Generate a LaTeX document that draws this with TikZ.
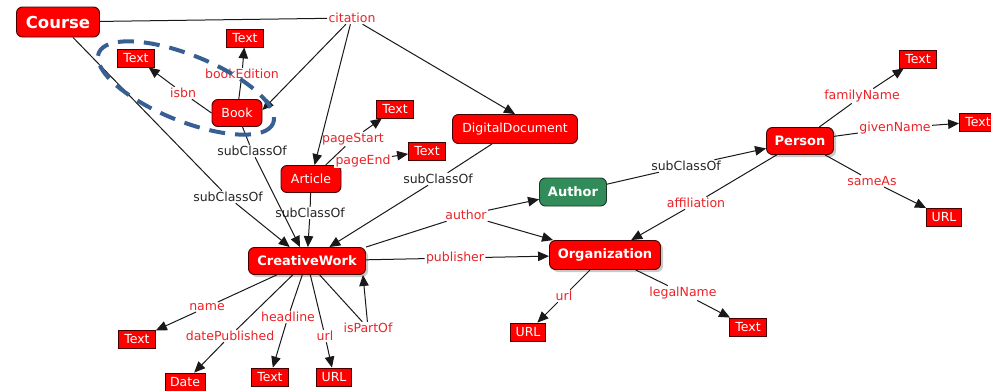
\documentclass[tikz,border=0pt]{standalone}
\usepackage{fontspec}
\setmainfont{DejaVu Sans}
\usetikzlibrary{arrows.meta,shadows}
\definecolor{nodered}{RGB}{255,0,0}
\definecolor{edgered}{RGB}{235,35,40}
\definecolor{authgreen}{RGB}{50,140,90}
\definecolor{ellblue}{RGB}{55,95,145}
\definecolor{edgecol}{RGB}{25,25,25}
\definecolor{bordercol}{RGB}{70,0,0}
\begin{document}
\begin{tikzpicture}[x=1pt,y=-1pt,
  cls/.style={draw=bordercol, line width=0.9pt, fill=nodered, rounded corners=6pt, text=white, font=\fontsize{12.5}{14}\selectfont, inner sep=2pt, minimum height=27pt},
  boldcls/.style={cls, font=\fontsize{13}{15}\selectfont\bfseries},
  shad/.style={drop shadow={shadow xshift=2.5pt, shadow yshift=-2.5pt, fill=black!35, opacity=0.6}},
  lit/.style={draw=bordercol, line width=0.8pt, fill=nodered, text=white, font=\fontsize{12.5}{14}\selectfont, inner sep=1pt, minimum height=18pt, minimum width=37pt},
  lab/.style={fill=white, text=edgered, font=\fontsize{12.5}{14}\selectfont, inner sep=1.2pt},
  blab/.style={lab, text=black!85},
  link/.style={draw=edgecol, line width=1pt},
  arr/.style={link, -{Triangle[length=11pt,width=9.5pt]}},
]
\useasboundingbox (0,0) rectangle (991,391);
\fill[white] (0,0) rectangle (991,391);

% concept nodes
\node[boldcls, font=\fontsize{16.5}{18}\selectfont\bfseries, minimum width=83pt, minimum height=30pt] (course) at (58,22) {Course};
\node[lit] (t1) at (136,58) {Text};
\node[lit] (t2) at (245,38) {Text};
\node[cls, minimum width=50pt] (book) at (237,113) {Book};
\node[cls, minimum width=60pt] (article) at (311,179) {Article};
\node[lit] (t3) at (395,109) {Text};
\node[lit] (t4) at (427,151) {Text};
\node[cls, minimum width=125pt, minimum height=29pt] (dd) at (515,129) {DigitalDocument};
\node[boldcls, fill=authgreen, draw=black!60!authgreen, minimum width=67pt, minimum height=28pt] (author) at (573,192) {Author};
\node[boldcls, shad, minimum width=67pt] (person) at (800,141) {Person};
\node[lit] (t5) at (918,59) {Text};
\node[lit] (t6) at (978,122) {Text};
\node[lit, minimum width=35pt] (u1) at (944,217) {URL};
\node[boldcls, shad, minimum width=117pt] (cw) at (307,261) {CreativeWork};
\node[boldcls, shad, minimum width=111pt, minimum height=29pt] (org) at (605,255) {Organization};
\node[lit, minimum width=35pt] (u2) at (528,332) {URL};
\node[lit] (t7) at (748,327) {Text};
\node[lit] (t8) at (137,339) {Text};
\node[lit, minimum width=40pt] (date) at (185,382) {Date};
\node[lit] (t9) at (270,377) {Text};
\node[lit, minimum width=35pt] (u3) at (334,377) {URL};

% link labels
\node[lab] (citation) at (352,18) {citation};
\node[lab] (isbn) at (183,93) {isbn};
\node[lab] (bookedition) at (242,74) {bookEdition};
\node[blab] (sc1) at (252,151) {subClassOf};
\node[blab] (sc2) at (228,197) {subClassOf};
\node[blab] (sc3) at (310,213) {subClassOf};
\node[blab] (sc4) at (438,179) {subClassOf};
\node[lab] (pagestart) at (353,139) {pageStart};
\node[lab] (pageend) at (363,161) {pageEnd};
\node[lab] (authorlab) at (466,215) {author};
\node[lab] (publisher) at (455,258) {publisher};
\node[blab] (sc5) at (686,166) {subClassOf};
\node[lab] (affiliation) at (696,203) {affiliation};
\node[lab] (familyname) at (862,96) {familyName};
\node[lab] (givenname) at (895,128) {givenName};
\node[lab] (sameas) at (872,181) {sameAs};
\node[lab] (orgurl) at (564,296) {url};
\node[lab] (legalname) at (683,293) {legalName};
\node[lab] (name) at (207,307) {name};
\node[lab] (datepub) at (230,336) {datePublished};
\node[lab] (headline) at (288,317) {headline};
\node[lab] (cwurl) at (325,336) {url};
\node[lab] (ispartof) at (368,328) {isPartOf};

% connectors
\draw[link] (course) -- (citation);
\draw[arr] (citation) -- ([yshift=3pt]book.east);
\draw[arr] (citation) -- (article);
\draw[arr] (citation) -- (dd.north);
\draw[link] (book.west) -- (isbn);
\draw[arr] (isbn) -- (t1);
\draw[link] (book) -- (bookedition);
\draw[arr] (bookedition) -- (t2);
\draw[link] (book) -- (sc1);
\draw[arr] (sc1) -- (cw);
\draw[link] (course) -- (sc2);
\draw[arr] (sc2) -- (cw);
\draw[link] (article) -- (sc3);
\draw[arr] (sc3) -- (cw);
\draw[link] (dd) -- (sc4);
\draw[arr] (sc4) -- (cw);
\draw[link] (article) -- (pagestart);
\draw[arr] (pagestart) -- (t3);
\draw[link] (article) -- (pageend);
\draw[arr] (pageend) -- (t4);
\draw[link] (cw.north east) -- (authorlab);
\draw[arr] (authorlab) -- (author);
\draw[arr] (authorlab) -- (org);
\draw[link] (cw) -- (publisher);
\draw[arr] (publisher) -- (org);
\draw[link] (author) -- (sc5);
\draw[arr] (sc5) -- (person);
\draw[link] (person) -- (affiliation);
\draw[arr] (affiliation) -- (org);
\draw[link] (person) -- (familyname);
\draw[arr] (familyname) -- (t5);
\draw[link] (person) -- (givenname);
\draw[arr] (givenname) -- (t6);
\draw[link] (person) -- (sameas);
\draw[arr] (sameas) -- (u1);
\draw[link] (org) -- (orgurl);
\draw[arr] (orgurl) -- (u2);
\draw[link] (org) -- (legalname);
\draw[arr] (legalname) -- (t7);
\draw[link] (cw) -- (name);
\draw[arr] (name) -- (t8);
\draw[link] (cw) -- (datepub);
\draw[arr] (datepub) -- (date);
\draw[link] (cw) -- (headline);
\draw[arr] (headline) -- (t9);
\draw[link] (cw) -- (cwurl);
\draw[arr] (cwurl) -- (u3);
\draw[link] (cw) -- (ispartof);
\draw[arr] (ispartof) -- ([xshift=-3pt]cw.south east);

% highlight ellipse
\begin{scope}[shift={(186,88)}, rotate=-22]
  \draw[ellblue, line width=4pt, dash pattern=on 16pt off 10pt] (0,0) ellipse [x radius=94, y radius=33];
\end{scope}
\end{tikzpicture}
\end{document}
